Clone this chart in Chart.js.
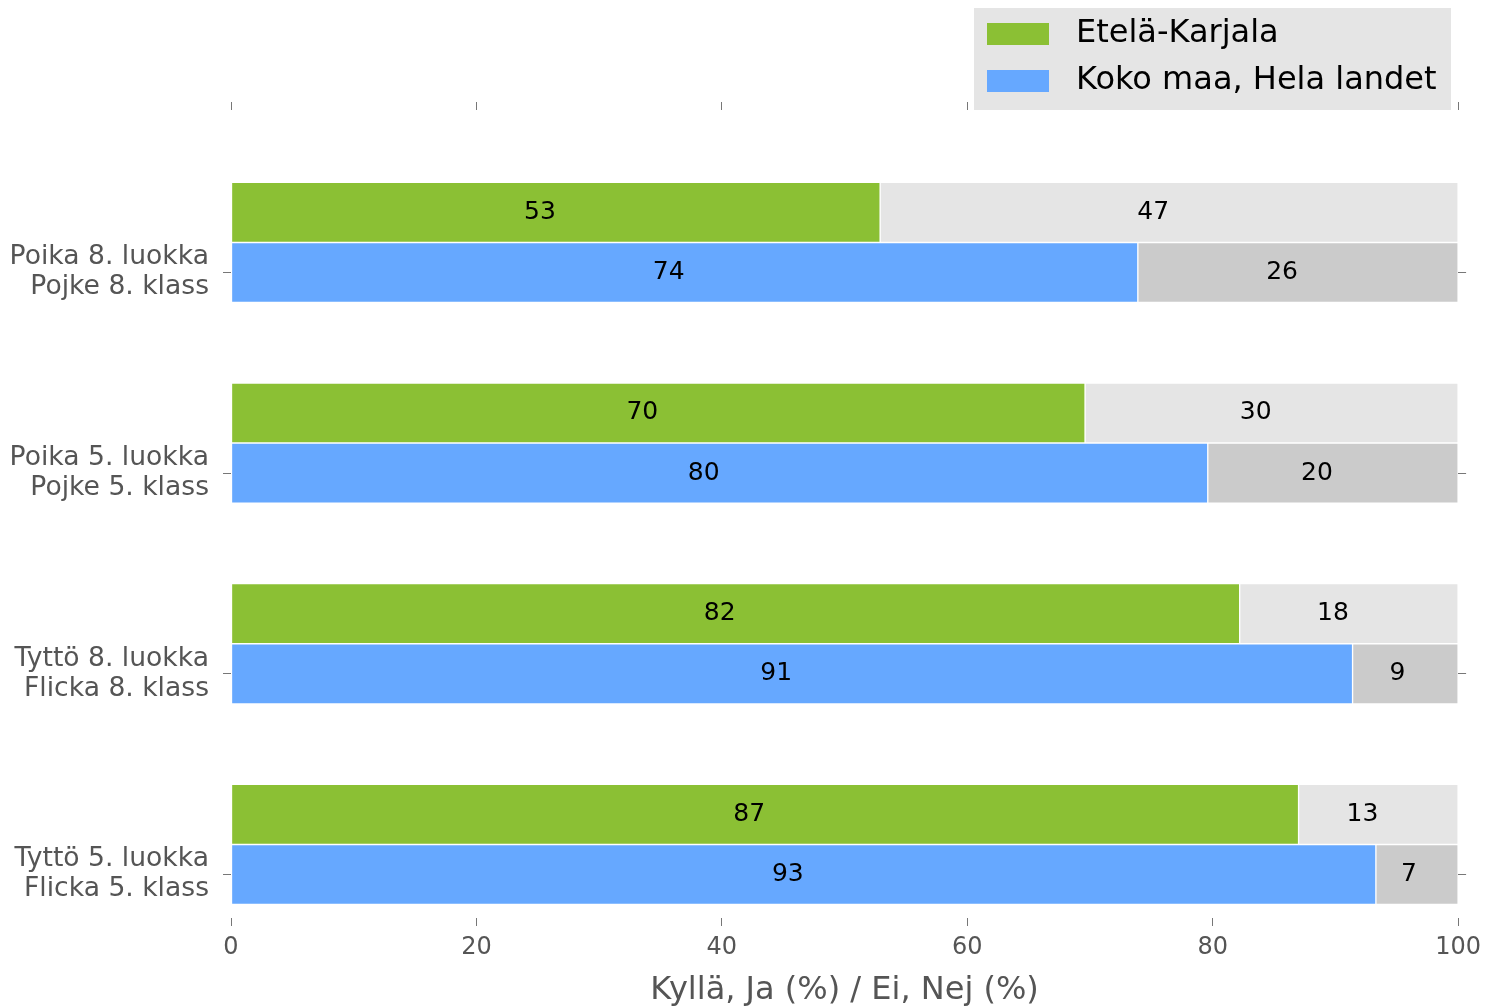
<!DOCTYPE html>
<html>
<head>
<meta charset="utf-8">
<script src="https://cdn.jsdelivr.net/npm/chart.js@4"></script>
<style>
  body { margin: 0; background: #fff; }
  canvas { display: block; }
</style>
</head>
<body>
<canvas id="chart" width="1488" height="1007"></canvas>
<script>
// Categories, top to bottom
const categories = [
    ['Poika 8. luokka', 'Pojke 8. klass'],
    ['Poika 5. luokka', 'Pojke 5. klass'],
    ['Tyttö 8. luokka', 'Flicka 8. klass'],
    ['Tyttö 5. luokka', 'Flicka 5. klass']
];
const seriesNames = ['Etelä-Karjala', 'Koko maa, Hela landet'];
const ekYes = [52.9, 69.6, 82.2, 87.0];
const ekNo = [47.1, 30.4, 17.8, 13.0];
const kmYes = [73.9, 79.6, 91.4, 93.3];
const kmNo = [26.1, 20.4, 8.6, 6.7];
const xTicks = [0, 20, 40, 60, 80, 100];

const font = 'DejaVu Sans';
const textGrey = '#555555';

// category i sits at y = 3 - i, green bar one bar height above
const rows = (vals, shift) => vals.map((v, i) => ({ x: v, y: categories.length - 1 - i + shift }));

const barStyle = {
    barThickness: 60,
    borderWidth: 1,
    borderColor: 'rgba(255, 255, 255, 0.7)',
    borderSkipped: false,
    stack: 'all'
};

// Value labels, right edge at the middle of every segment
const valueLabels = {
    id: 'valueLabels',
    afterDatasetsDraw(chart) {
        const ctx = chart.ctx;
        ctx.save();
        ctx.font = '25px "' + font + '"';
        ctx.fillStyle = '#000';
        ctx.textAlign = 'right';
        ctx.textBaseline = 'middle';
        chart.data.datasets.forEach((ds, di) => {
            chart.getDatasetMeta(di).data.forEach((bar, j) => {
                const p = bar.getCenterPoint();
                ctx.fillText(Math.round(ds.data[j].x), p.x, p.y);
            });
        });
        ctx.restore();
    }
};

// Boxed legend in the top right corner
const boxLegend = {
    id: 'boxLegend',
    afterDraw(chart) {
        const ctx = chart.ctx;
        ctx.save();
        ctx.fillStyle = '#e5e5e5';
        ctx.fillRect(974, 8, 477, 102);
        ctx.font = '32px "' + font + '"';
        ctx.textBaseline = 'middle';
        [0, 2].forEach((di, k) => {
            const ds = chart.data.datasets[di];
            const y = 34 + k * 47;
            ctx.fillStyle = ds.backgroundColor;
            ctx.fillRect(987, y - 11, 62, 22);
            ctx.fillStyle = '#000';
            ctx.fillText(ds.label, 1076, y);
        });
        ctx.restore();
    }
};

const yRange = { min: -0.2168, max: 3.8098, offset: false };
const setCategoryTicks = (scale) => {
    scale.ticks = categories.map((c, i) => ({ value: i }));
};
const tickGrid = { drawOnChartArea: false, drawTicks: true, tickLength: 8, color: '#777', offset: false };

const ctx = document.getElementById('chart').getContext('2d');
const chart = new Chart(ctx, {
    type: 'bar',
    data: {
        datasets: [
            { label: seriesNames[0], data: rows(ekYes, 0.3), backgroundColor: '#8bc034', ...barStyle },
            { label: 'ek-no', data: rows(ekNo, 0.3), backgroundColor: '#e5e5e5', ...barStyle },
            { label: seriesNames[1], data: rows(kmYes, 0), backgroundColor: '#66a8ff', ...barStyle },
            { label: 'km-no', data: rows(kmNo, 0), backgroundColor: '#cbcbcb', ...barStyle }
        ]
    },
    options: {
        indexAxis: 'y',
        responsive: false,
        animation: false,
        layout: { padding: 0 },
        scales: {
            x: {
                type: 'linear',
                position: 'bottom',
                stacked: true,
                min: 0,
                max: 100,
                afterBuildTicks: (scale) => { scale.ticks = xTicks.map(v => ({ value: v })); },
                afterFit: (scale) => { scale.height = 89; },
                border: { display: false },
                grid: tickGrid,
                ticks: { color: textGrey, padding: 7, font: { family: font, size: 24 } },
                title: {
                    display: true,
                    text: 'Kyllä, Ja (%) / Ei, Nej (%)',
                    color: textGrey,
                    font: { family: font, size: 32, lineHeight: 1 },
                    padding: { top: 0, bottom: 0 }
                }
            },
            x2: {
                type: 'linear',
                position: 'top',
                min: 0,
                max: 100,
                afterBuildTicks: (scale) => { scale.ticks = xTicks.map(v => ({ value: v })); },
                afterFit: (scale) => { scale.height = 110; },
                border: { display: false },
                grid: tickGrid,
                ticks: { display: false }
            },
            y: {
                type: 'linear',
                position: 'left',
                ...yRange,
                afterBuildTicks: setCategoryTicks,
                afterFit: (scale) => { scale.width = 231; },
                border: { display: false },
                grid: tickGrid,
                ticks: {
                    color: textGrey,
                    padding: 14,
                    font: { family: font, size: 26.6, lineHeight: 1.13 },
                    callback: (v) => categories[categories.length - 1 - v]
                }
            },
            y2: {
                type: 'linear',
                position: 'right',
                ...yRange,
                afterBuildTicks: setCategoryTicks,
                afterFit: (scale) => { scale.width = 29; },
                border: { display: false },
                grid: tickGrid,
                ticks: { display: false }
            }
        },
        plugins: {
            legend: { display: false },
            tooltip: { enabled: false }
        }
    },
    plugins: [valueLabels, boxLegend]
});
</script>
</body>
</html>
